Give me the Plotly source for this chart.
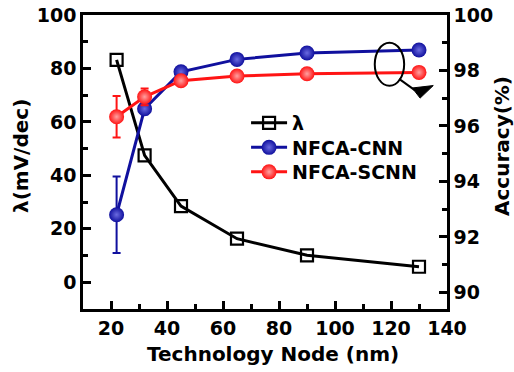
import plotly.graph_objects as go

nodes = [22, 32, 45, 65, 90, 130]
lam = [83.2, 47.5, 28.5, 16.3, 10.1, 5.8]
acc_cnn = [92.8, 96.62, 97.95, 98.4, 98.63, 98.74]
acc_cnn_err = [1.38, 0.2, 0.1, 0.0, 0.0, 0.0]
acc_scnn = [96.33, 97.05, 97.63, 97.8, 97.88, 97.93]
acc_scnn_err = [0.75, 0.3, 0.15, 0.0, 0.0, 0.0]

FONT = "DejaVu Sans, Liberation Sans, Arial, sans-serif"
BLUE = "#10109e"
RED = "#ff1414"

fig = go.Figure()
fig.add_trace(go.Scatter(
    x=nodes, y=lam, name="λ", mode="lines+markers",
    line=dict(color="black", width=3),
    marker=dict(symbol="square-open", size=12, color="black", line=dict(width=2.2)),
    yaxis="y", legend="legend"))
fig.add_trace(go.Scatter(
    x=nodes, y=acc_cnn, name="NFCA-CNN", mode="lines+markers",
    line=dict(color=BLUE, width=3),
    marker=dict(symbol="circle", size=15, color=BLUE,
                gradient=dict(type="radial", color="#6a6ae0"), line=dict(width=0)),
    error_y=dict(type="data", array=acc_cnn_err, color=BLUE, thickness=2, width=4),
    yaxis="y2", legend="legend2"))
fig.add_trace(go.Scatter(
    x=nodes, y=acc_scnn, name="NFCA-SCNN", mode="lines+markers",
    line=dict(color=RED, width=3),
    marker=dict(symbol="circle", size=15, color=RED,
                gradient=dict(type="radial", color="#ffa0a0"), line=dict(width=0)),
    error_y=dict(type="data", array=acc_scnn_err, color=RED, thickness=2, width=4),
    yaxis="y2", legend="legend3"))

axis_common = dict(
    showline=True, linewidth=2.5, linecolor="black",
    ticks="inside", ticklen=8, tickwidth=2.5, tickcolor="black",
    showgrid=False, zeroline=False, automargin=False,
    tickfont=dict(family=FONT, size=19, color="black", weight="bold"),
)

# plot area spans x 83..447, y 15..309 (px)
def py(p):
    return (309 - p) / 294.0

leg_common = dict(xanchor="left", yanchor="middle", bgcolor="rgba(0,0,0,0)",
                  font=dict(family=FONT, size=19, color="black", weight="bold"),
                  itemwidth=36, borderwidth=0)

fig.update_layout(
    width=514, height=372,
    margin=dict(l=83, r=67, t=15, b=63, autoexpand=False),
    paper_bgcolor="white", plot_bgcolor="white",
    font=dict(family=FONT, color="black", weight="bold"),
    showlegend=True,
    legend=dict(x=0.448, y=py(123), **leg_common),
    legend2=dict(x=0.448, y=py(147.5), **leg_common),
    legend3=dict(x=0.448, y=py(172), **leg_common),
    xaxis=dict(range=[10, 140], tick0=20, dtick=20, mirror=True,
               minor=dict(ticks="inside", ticklen=5, tickwidth=2.5, dtick=10, tick0=10, tickcolor="black"),
               **axis_common),
    yaxis=dict(range=[-10, 100], tick0=0, dtick=20,
               minor=dict(ticks="inside", ticklen=5, tickwidth=2.5, dtick=10, tick0=10, tickcolor="black"),
               **axis_common),
    yaxis2=dict(range=[89.4, 100], tick0=90, dtick=2, overlaying="y", side="right",
                minor=dict(ticks="inside", ticklen=5, tickwidth=2.5, dtick=1, tick0=91, tickcolor="black"),
                **axis_common),
)

title_font = dict(family=FONT, size=20, color="black", weight="bold")
fig.add_annotation(text="Technology Node (nm)", xref="paper", yref="paper",
                   x=(273 - 83) / 364.0, y=py(354), xanchor="center", yanchor="middle",
                   showarrow=False, font=title_font)
fig.add_annotation(text="λ(mV/dec)", xref="paper", yref="paper",
                   x=(21 - 83) / 364.0, y=py(156), xanchor="center", yanchor="middle", textangle=-90,
                   showarrow=False, font=title_font)
fig.add_annotation(text="Accuracy(%)", xref="paper", yref="paper",
                   x=(502 - 83) / 364.0, y=py(146), xanchor="center", yanchor="middle", textangle=-90,
                   showarrow=False, font=title_font)

# ellipse + arrow annotation
fig.add_shape(type="circle", xref="x", yref="y", x0=114.2, x1=124.7, y0=73.5, y1=89.6,
              line=dict(color="black", width=2))
fig.add_shape(type="path", xref="x", yref="y", path="M 122.9 76.1 L 128.6 71.8",
              line=dict(color="black", width=2))
fig.add_shape(type="path", xref="x", yref="y", path="M 127.6 72.7 L 135.1 73.6 L 130.4 68.9 Z",
              fillcolor="black", line=dict(color="black", width=1))

fig.write_html("out.html", config={"displayModeBar": False},
               post_script="document.body.style.margin='0px';")
